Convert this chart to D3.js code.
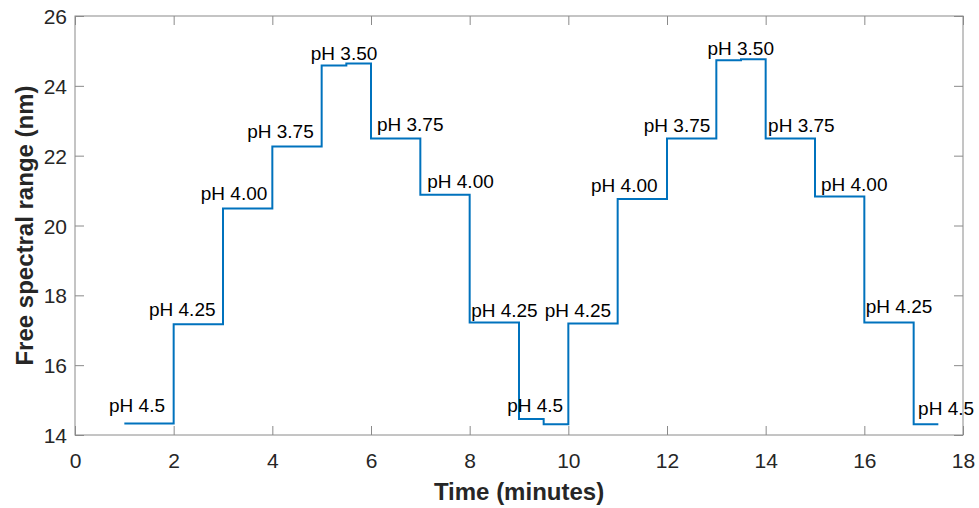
<!DOCTYPE html>
<html>
<head>
<meta charset="utf-8">
<script src="https://cdn.jsdelivr.net/npm/d3@7"></script>
<style>
  html, body { margin: 0; padding: 0; background: #fff; }
  svg { display: block; font-family: "Liberation Sans", Arial, Helvetica, sans-serif; }
</style>
</head>
<body>
<svg id="chart" width="979" height="508"></svg>
<script>
// ---- data ----
const times = [1, 2, 3, 4, 5, 5.5, 6, 7, 8, 9, 9.5, 10, 11, 12, 13, 13.5, 14, 15, 16, 17, 17.5];
const fsr   = [14.33, 17.17, 20.49, 22.26, 24.58, 24.64, 22.49, 20.88, 17.22, 14.46, 14.31,
               17.19, 20.76, 22.49, 24.73, 24.76, 22.49, 20.83, 17.22, 14.31, 14.31];
const labelText = ["pH 4.5", "pH 4.25", "pH 4.00", "pH 3.75", "pH 3.50", "pH 3.75", "pH 4.00", "pH 4.25", "pH 4.5",
                   "pH 4.25", "pH 4.00", "pH 3.75", "pH 3.50", "pH 3.75", "pH 4.00", "pH 4.25", "pH 4.5"];
const labelX = [0.71, 1.52, 2.57, 3.51, 4.80, 6.14, 7.16, 8.05, 8.78, 9.54, 10.48, 11.55, 12.84, 14.07, 15.14, 16.05, 17.11];
const labelY = [14.67, 17.40, 20.73, 22.52, 24.73, 22.71, 21.08, 17.38, 14.67, 17.38, 20.95, 22.67, 24.88, 22.67, 21.00, 17.48, 14.57];
const xTicks = [0, 2, 4, 6, 8, 10, 12, 14, 16, 18];
const yTicks = [14, 16, 18, 20, 22, 24, 26];
const xTitle = "Time (minutes)";
const yTitle = "Free spectral range (nm)";

// ---- layout ----
const svg = d3.select("#chart");
const L = 75, T = 16, R = 963, B = 435;
const x = d3.scaleLinear().domain([0, 18]).range([L, R]);
const y = d3.scaleLinear().domain([14, 26]).range([B, T]);
const axisColor = "#8a8a8a";
const tickTextColor = "#262626";
const tickLen = 9;

// box
svg.append("rect").attr("x", L).attr("y", T).attr("width", R - L).attr("height", B - T)
  .attr("fill", "none").attr("stroke", axisColor).attr("stroke-width", 1);

// axes (ticks inward, mirrored)
function styleAxis(g) {
  g.select(".domain").remove();
  g.selectAll(".tick line").attr("stroke", axisColor);
  g.selectAll(".tick text").attr("fill", tickTextColor)
    .attr("font-family", '"Liberation Sans", Arial, sans-serif').attr("font-size", 21);
}
svg.append("g").attr("transform", `translate(0,${B})`)
  .call(d3.axisBottom(x).tickValues(xTicks).tickFormat(d3.format("d")).tickSizeInner(-tickLen).tickSizeOuter(0).tickPadding(22))
  .call(styleAxis)
  .call(g => g.selectAll(".tick text").attr("dy", 0).attr("y", 33));
svg.append("g").attr("transform", `translate(0,${T})`)
  .call(d3.axisTop(x).tickValues(xTicks).tickFormat("").tickSizeInner(-tickLen).tickSizeOuter(0))
  .call(styleAxis);
svg.append("g").attr("transform", `translate(${L},0)`)
  .call(d3.axisLeft(y).tickValues(yTicks).tickFormat(d3.format("d")).tickSizeInner(-tickLen).tickSizeOuter(0).tickPadding(8))
  .call(styleAxis)
  .call(g => g.selectAll(".tick text").attr("x", -8).attr("dy", "0.36em"));
svg.append("g").attr("transform", `translate(${R},0)`)
  .call(d3.axisRight(y).tickValues(yTicks).tickFormat("").tickSizeInner(-tickLen).tickSizeOuter(0))
  .call(styleAxis);

// step line
const pts = times.map((t, i) => [t, fsr[i]]);
svg.append("path").datum(pts)
  .attr("fill", "none").attr("stroke", "#0072BD").attr("stroke-width", 2)
  .attr("d", d3.line().x(d => x(d[0])).y(d => y(d[1])).curve(d3.curveStepAfter));

// annotations
svg.append("g").selectAll("text").data(labelText).join("text")
  .attr("x", (d, i) => x(labelX[i]) - 1)
  .attr("y", (d, i) => y(labelY[i]))
  .attr("font-size", 19).attr("fill", "#000")
  .text(d => d);

// titles
svg.append("text").attr("x", (L + R) / 2).attr("y", 500).attr("text-anchor", "middle")
  .attr("font-size", 24).attr("font-weight", "bold").attr("fill", tickTextColor).text(xTitle);
svg.append("text").attr("transform", `translate(33,${(T + B) / 2}) rotate(-90)`).attr("text-anchor", "middle")
  .attr("font-size", 24).attr("font-weight", "bold").attr("fill", tickTextColor).text(yTitle);
</script>
</body>
</html>
